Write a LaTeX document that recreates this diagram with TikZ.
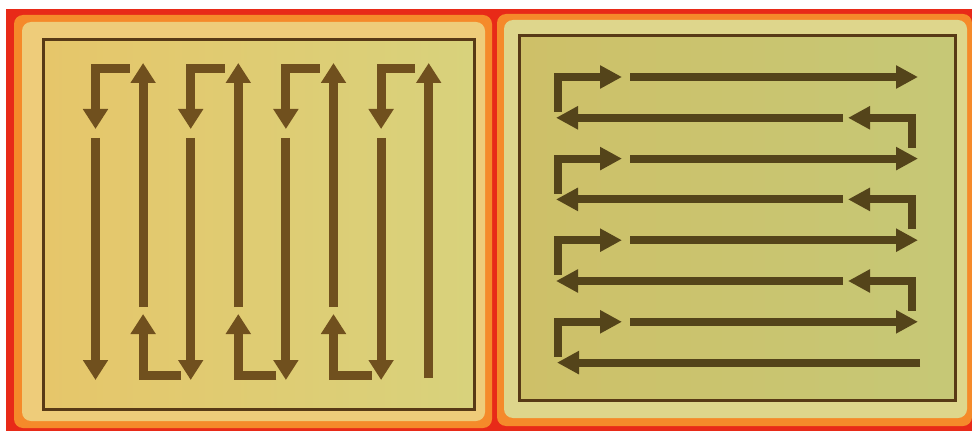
\documentclass[tikz,border=0pt]{standalone}
\usetikzlibrary{arrows.meta}
\definecolor{bgRed}{RGB}{232,42,24}
\definecolor{glowOrange}{RGB}{245,138,42}
\definecolor{paleRim}{RGB}{238,204,122}
\definecolor{paleRimB}{RGB}{222,214,140}
\definecolor{sheetA}{RGB}{230,198,106}
\definecolor{sheetAr}{RGB}{216,210,124}
\definecolor{sheetB}{RGB}{206,192,104}
\definecolor{sheetBr}{RGB}{198,200,118}
\definecolor{frameInk}{RGB}{88,58,22}
\definecolor{pathInkA}{RGB}{112,80,30}
\definecolor{pathInkB}{RGB}{84,68,26}
\tikzset{
  rimbox/.style={rounded corners=9pt},
  sheet/.style={draw=frameInk, line width=3pt},
  pathA/.style={draw=pathInkA, line width=9pt, -{Triangle[length=20pt,width=24pt]}},
  pathB/.style={draw=pathInkB, line width=8pt, -{Triangle[length=22pt,width=22pt]}}
}
\begin{document}
\begin{tikzpicture}[x=1pt, y=-1pt]
  \useasboundingbox (0,0) rectangle (972,433);
  \fill[bgRed] (6,9) rectangle (972,431);
  \fill[glowOrange, rimbox] (14,15) rectangle (492,428);
  \fill[paleRim, rimbox] (22,22) rectangle (485,421);
  \fill[glowOrange, rimbox] (497,14) rectangle (972,426);
  \fill[paleRimB, rimbox] (504,20) rectangle (967,418);
  \path[sheet, left color=sheetA, right color=sheetAr] (43,40) rectangle (474,409);
  \path[sheet, left color=sheetB, right color=sheetBr] (519,36) rectangle (955,400);

  % vertical sweep
  \foreach \k in {1,3,5,7} {
    \pgfmathsetmacro\cx{95.5+47.6*(\k-1)}
    \coordinate (dstub\k) at ({\cx+34},69);
    \coordinate (dturn\k) at (\cx,69);
    \coordinate (dtip\k) at (\cx,129);
    \coordinate (dtop\k) at (\cx,138);
    \coordinate (dend\k) at (\cx,380);
    \draw[pathA] (dstub\k) -- (dturn\k) -- (dtip\k);
    \draw[pathA] (dtop\k) -- (dend\k);
  }
  \foreach \k in {2,4,6} {
    \pgfmathsetmacro\cx{95.5+47.6*(\k-1)}
    \coordinate (ubot\k) at (\cx,307);
    \coordinate (uend\k) at (\cx,63);
    \coordinate (ustub\k) at ({\cx+38},375);
    \coordinate (uturn\k) at (\cx,375);
    \coordinate (utip\k) at (\cx,314);
    \draw[pathA] (ubot\k) -- (uend\k);
    \draw[pathA] (ustub\k) -- (uturn\k) -- (utip\k);
  }
  \coordinate (ubot8) at (428.7,378);
  \coordinate (uend8) at (428.7,63);
  \draw[pathA] (ubot8) -- (uend8);

  % horizontal sweep
  \foreach \k in {1,3,5,7} {
    \pgfmathsetmacro\ry{77+40.8*(\k-1)}
    \coordinate (rfoot\k) at (558,{\ry+35});
    \coordinate (rturn\k) at (558,\ry);
    \coordinate (rtip\k) at (622,\ry);
    \coordinate (rstart\k) at (630,\ry);
    \coordinate (rend\k) at (918,\ry);
    \draw[pathB] (rfoot\k) -- (rturn\k) -- (rtip\k);
    \draw[pathB] (rstart\k) -- (rend\k);
  }
  \foreach \k in {2,4,6} {
    \pgfmathsetmacro\ry{77+40.8*(\k-1)}
    \coordinate (bstart\k) at (843,\ry);
    \coordinate (bend\k) at (556,\ry);
    \coordinate (bfoot\k) at (912,{\ry+30});
    \coordinate (bturn\k) at (912,\ry);
    \coordinate (btip\k) at (848,\ry);
    \draw[pathB] (bstart\k) -- (bend\k);
    \draw[pathB] (bfoot\k) -- (bturn\k) -- (btip\k);
  }
  \coordinate (bstart8) at (920,362.6);
  \coordinate (bend8) at (557,362.6);
  \draw[pathB] (bstart8) -- (bend8);
\end{tikzpicture}
\end{document}
